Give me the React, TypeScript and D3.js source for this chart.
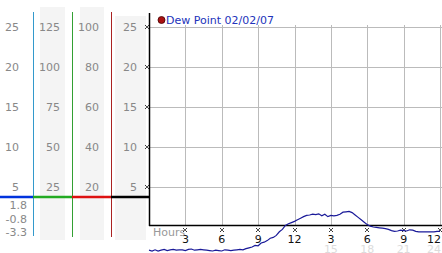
import React from "react";
import * as d3 from "d3";

const W = 442;
const H = 253;

// Left-scale labels
const col1Labels = [25, 20, 15, 10, 5];
const col1Lower = ["1.8", "-0.8", "-3.3"];
const col2Labels = [125, 100, 75, 50, 25];
const col3Labels = [100, 80, 60, 40, 20];
const col4Labels = [25, 20, 15, 10, 5];

// X axis
const hourTicks = [3, 6, 9, 12, 15, 18, 21, 24];
const hourLabels = ["3", "6", "9", "12", "3", "6", "9", "12"];
const hour24Labels = ["", "", "", "", "15", "18", "21", "24"];

// Dew point series, one value every quarter hour from 0h to 24h
const dewPoint = [
  -2.9, -3.0, -2.85, -3.0, -2.9, -2.8, -2.95, -2.85, -2.8, -2.9, -2.85, -2.85,
  -2.95, -2.8, -2.75, -2.9, -2.85, -2.8, -2.85, -2.9, -2.95, -3.0, -2.9, -2.95,
  -3.0, -2.85, -2.9, -2.95, -2.9, -2.85, -2.8, -2.85, -2.7,
  -2.6, -2.5, -2.3, -2.35, -2.0, -1.9, -1.7, -1.4, -1.3, -1.05, -0.6, -0.3,
  0.2, 0.4, 0.55, 0.7,
  0.9, 1.1, 1.3, 1.45, 1.5, 1.6, 1.55, 1.65, 1.4, 1.6, 1.3, 1.45, 1.4, 1.45,
  1.6, 1.85,
  1.9, 1.95, 1.8, 1.5, 1.2, 0.9, 0.6, 0.3,
  0.1, 0.0, -0.05, -0.1, -0.15, -0.2, -0.3, -0.45, -0.55, -0.5, -0.4, -0.45,
  -0.5, -0.35, -0.4, -0.55, -0.6, -0.6, -0.6, -0.6, -0.6, -0.6, -0.55, -0.55,
];
const hours = dewPoint.map((_, i) => i * 0.25);

const FONT = "'DejaVu Sans', Verdana, sans-serif";

function Marker({ x, y }: { x: number; y: number }) {
  return (
    <g transform={`translate(${x},${y})`} fill="#333">
      <rect x={-2} y={-2} width={1} height={1} />
      <rect x={1} y={-2} width={1} height={1} />
      <rect x={-1} y={-1} width={2} height={2} fill="#555" />
      <rect x={-2} y={1} width={1} height={1} />
      <rect x={1} y={1} width={1} height={1} />
    </g>
  );
}

export default function App() {
  const plotL = 149;
  const plotR = 440;
  const x = d3.scaleLinear().domain([0, 24]).range([plotL, plotR]);
  const y = d3.scaleLinear().domain([0, 25]).range([227, 27]);
  const line = d3
    .line<number>()
    .x((_, i) => x(hours[i]))
    .y((d) => y(d));

  const gridY = col4Labels;
  const leftY = (v: number, top: number) => y(v * (25 / top));

  return (
    <svg
      width={W}
      height={H}
      style={{ position: "absolute", left: 0, top: 0, background: "#fff" }}
      fontFamily={FONT}
    >
      <rect x={0} y={0} width={W} height={H} fill="#fff" />
      {/* gray bands */}
      <rect x={40} y={7} width={25} height={233} fill="#f4f4f4" />
      <rect x={80} y={7} width={24} height={233} fill="#f4f4f4" />
      <rect x={115} y={16} width={31} height={224} fill="#f4f4f4" />

      {/* column lines */}
      <line x1={33.5} x2={33.5} y1={12} y2={236} stroke="#3399cc" strokeWidth={1} />
      <line x1={72.5} x2={72.5} y1={12} y2={237} stroke="#33a033" strokeWidth={1} />
      <line x1={111.5} x2={111.5} y1={12} y2={237} stroke="#aa2222" strokeWidth={1} />

      {/* column labels */}
      <g fontSize={11} fill="#888">
        {col1Labels.map((v) => (
          <text key={"a" + v} x={19} y={y(v) + 4} textAnchor="end">{v}</text>
        ))}
        {col1Lower.map((v, i) => (
          <text key={"l" + v} x={27} y={209 + i * 13.5} textAnchor="end">{v}</text>
        ))}
        {col2Labels.map((v) => (
          <text key={"b" + v} x={60} y={leftY(v, 125) + 4} textAnchor="end">{v}</text>
        ))}
        {col3Labels.map((v) => (
          <text key={"c" + v} x={99} y={leftY(v, 100) + 4} textAnchor="end">{v}</text>
        ))}
        {col4Labels.map((v) => (
          <text key={"d" + v} x={137} y={y(v) + 4} textAnchor="end">{v}</text>
        ))}
      </g>

      {/* colored base line */}
      <line x1={0} x2={33} y1={197} y2={197} stroke="#0033dd" strokeWidth={2.5} />
      <line x1={33} x2={72} y1={197} y2={197} stroke="#22aa22" strokeWidth={2.5} />
      <line x1={72} x2={111} y1={197} y2={197} stroke="#dd1111" strokeWidth={2.5} />
      <line x1={111} x2={149} y1={197} y2={197} stroke="#000" strokeWidth={2.5} />

      {/* grid */}
      <g stroke="#bbb" strokeWidth={1}>
        {gridY.map((v) => (
          <line key={"gy" + v} x1={plotL} x2={W} y1={Math.round(y(v)) + 0.5} y2={Math.round(y(v)) + 0.5} />
        ))}
        {hourTicks.map((h) => (
          <line key={"gx" + h} x1={Math.round(x(h)) + 0.5} x2={Math.round(x(h)) + 0.5} y1={25} y2={225} />
        ))}
      </g>

      {/* axes */}
      <line x1={149.5} x2={149.5} y1={13} y2={226} stroke="#000" strokeWidth={1.5} />
      <line x1={149} x2={W} y1={225.5} y2={225.5} stroke="#000" strokeWidth={1.5} />

      {/* y markers */}
      {gridY.map((v) => (
        <Marker key={"my" + v} x={147} y={Math.round(y(v))} />
      ))}

      {/* x markers & labels */}
      {hourTicks.map((h, i) => (
        <g key={"xl" + h}>
          <Marker x={Math.round(x(h))} y={230} />
          <text
            x={i === hourTicks.length - 1 ? W - 1 : x(h)}
            y={243}
            fontSize={11}
            fill="#111"
            textAnchor={i === hourTicks.length - 1 ? "end" : "middle"}
          >
            {hourLabels[i]}
          </text>
          {hour24Labels[i] && (
            <text
              x={i === hourTicks.length - 1 ? W - 1 : x(h)}
              y={253}
              fontSize={11}
              fill="#dcdcdc"
              textAnchor={i === hourTicks.length - 1 ? "end" : "middle"}
            >
              {hour24Labels[i]}
            </text>
          )}
        </g>
      ))}
      <text x={153} y={236} fontSize={11} fill="#999">Hours</text>

      {/* legend */}
      <circle cx={161.5} cy={20} r={3.5} fill="#aa1111" stroke="#440000" strokeWidth={0.8} />
      <text x={166} y={24} fontSize={11} fill="#2233bb">Dew Point 02/02/07</text>

      {/* data line */}
      <path d={line(dewPoint) || ""} fill="none" stroke="#1a1a99" strokeWidth={1.2} />
    </svg>
  );
}
